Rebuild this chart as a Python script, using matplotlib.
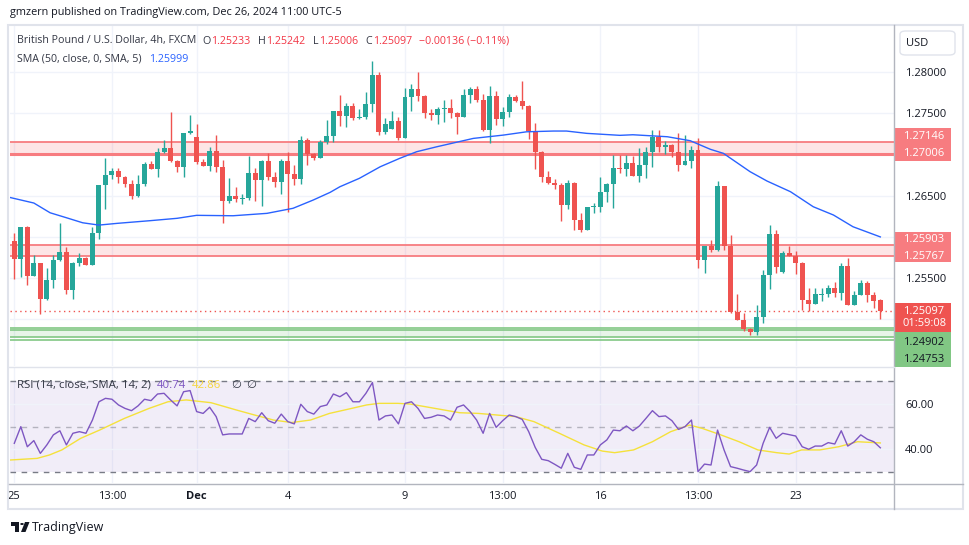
import matplotlib
matplotlib.use("Agg")
import matplotlib.pyplot as plt
from matplotlib.patches import Rectangle, FancyBboxPatch, Polygon, Circle
from matplotlib.lines import Line2D

# GBPUSD 4h candles
opens = [1.25949, 1.25735, 1.26118, 1.25529, 1.25679, 1.25251, 1.25473, 1.25719, 1.25816, 1.25356,
         1.25679, 1.25743, 1.25662, 1.26046, 1.26627, 1.26748, 1.26796, 1.26727, 1.26639, 1.26497,
         1.26639, 1.26884, 1.26820, 1.27029, 1.27078, 1.26917, 1.26848, 1.27256, 1.27207, 1.26908,
         1.26860, 1.27038, 1.26848, 1.26437, 1.26490, 1.26461, 1.26469, 1.26772, 1.26691, 1.26917,
         1.26720, 1.26666, 1.26917, 1.26760, 1.26699, 1.27167, 1.27002, 1.26957, 1.27147, 1.27219,
         1.27522, 1.27465, 1.27582, 1.27441, 1.27449, 1.27607, 1.27958, 1.27271, 1.27304, 1.27401,
         1.27199, 1.27691, 1.27792, 1.27707, 1.27501, 1.27474, 1.27546, 1.27555, 1.27501, 1.27453,
         1.27716, 1.27788, 1.27659, 1.27292, 1.27703, 1.27429, 1.27506, 1.27691, 1.27643, 1.27586,
         1.27280, 1.27029, 1.26723, 1.26654, 1.26630, 1.26388, 1.26651, 1.26207, 1.26086, 1.26357,
         1.26360, 1.26542, 1.26635, 1.26829, 1.26820, 1.26893, 1.26739, 1.26869, 1.27026, 1.27211,
         1.27090, 1.27111, 1.27022, 1.26872, 1.26917, 1.27050, 1.25723, 1.25888, 1.25844, 1.26614,
         1.25892, 1.25093, 1.24993, 1.24888, 1.24851, 1.25029, 1.25538, 1.26034, 1.25574, 1.25804,
         1.25771, 1.25686, 1.25235, 1.25190, 1.25300, 1.25310, 1.25380, 1.25323, 1.25646, 1.25175,
         1.25292, 1.25441, 1.25299, 1.25233]
highs = [1.26042, 1.26124, 1.26130, 1.25776, 1.25685, 1.25622, 1.25776, 1.26167, 1.25878, 1.25695,
         1.25804, 1.25759, 1.26122, 1.26627, 1.26953, 1.26829, 1.26829, 1.26730, 1.26683, 1.26748,
         1.26901, 1.26913, 1.27078, 1.27171, 1.27510, 1.26929, 1.27256, 1.27474, 1.27365, 1.26941,
         1.27083, 1.27235, 1.26929, 1.26711, 1.26599, 1.26514, 1.26974, 1.26829, 1.26929, 1.27010,
         1.26780, 1.26945, 1.27026, 1.26869, 1.27219, 1.27195, 1.27010, 1.27167, 1.27413, 1.27522,
         1.27716, 1.27622, 1.27622, 1.27546, 1.27752, 1.28127, 1.27997, 1.27441, 1.27518, 1.27453,
         1.27800, 1.27852, 1.27997, 1.27715, 1.27543, 1.27567, 1.27655, 1.27667, 1.27510, 1.27788,
         1.27816, 1.27824, 1.27728, 1.27824, 1.27760, 1.27567, 1.27724, 1.27715, 1.27885, 1.27595,
         1.27377, 1.27038, 1.26796, 1.26699, 1.26647, 1.26687, 1.26659, 1.26284, 1.26357, 1.26405,
         1.26723, 1.26651, 1.26990, 1.26990, 1.26990, 1.26974, 1.27074, 1.27086, 1.27292, 1.27292,
         1.27159, 1.27119, 1.27256, 1.27232, 1.27098, 1.27199, 1.25888, 1.25957, 1.26675, 1.26620,
         1.26022, 1.25308, 1.25074, 1.24896, 1.25175, 1.25598, 1.26143, 1.26082, 1.25828, 1.25892,
         1.25828, 1.25695, 1.25380, 1.25380, 1.25380, 1.25417, 1.25453, 1.25683, 1.25743, 1.25344,
         1.25477, 1.25461, 1.25335, 1.25242]
lows = [1.25486, 1.25517, 1.25420, 1.25525, 1.25069, 1.25239, 1.25384, 1.25711, 1.25311, 1.25251,
        1.25650, 1.25662, 1.25660, 1.25977, 1.26336, 1.26699, 1.26654, 1.26599, 1.26461, 1.26485,
        1.26614, 1.26820, 1.26723, 1.27017, 1.26901, 1.26780, 1.26723, 1.27247, 1.26877, 1.26860,
        1.26800, 1.26780, 1.26170, 1.26412, 1.26424, 1.26393, 1.26445, 1.26437, 1.26376, 1.26687,
        1.26606, 1.26518, 1.26303, 1.26630, 1.26635, 1.26869, 1.26933, 1.26957, 1.27123, 1.27150,
        1.27344, 1.27332, 1.27413, 1.27425, 1.27421, 1.27513, 1.27228, 1.27247, 1.27300, 1.27171,
        1.27195, 1.27526, 1.27643, 1.27441, 1.27409, 1.27368, 1.27389, 1.27441, 1.27247, 1.27450,
        1.27622, 1.27631, 1.27284, 1.27138, 1.27349, 1.27344, 1.27453, 1.27631, 1.27550, 1.27183,
        1.26824, 1.26666, 1.26642, 1.26582, 1.26195, 1.26340, 1.26086, 1.26061, 1.26080, 1.26291,
        1.26300, 1.26424, 1.26352, 1.26775, 1.26739, 1.26739, 1.26666, 1.26715, 1.26848, 1.27029,
        1.27005, 1.26962, 1.26800, 1.26870, 1.26836, 1.25626, 1.25565, 1.25819, 1.25832, 1.25840,
        1.25081, 1.24993, 1.24864, 1.24812, 1.24812, 1.24953, 1.25368, 1.25565, 1.25562, 1.25764,
        1.25553, 1.25114, 1.25098, 1.25190, 1.25227, 1.25271, 1.25271, 1.25239, 1.25175, 1.25175,
        1.25292, 1.25211, 1.25138, 1.25006]
closes = [1.25735, 1.26118, 1.25529, 1.25679, 1.25251, 1.25473, 1.25719, 1.25816, 1.25356, 1.25679,
          1.25743, 1.25662, 1.26046, 1.26627, 1.26748, 1.26796, 1.26727, 1.26639, 1.26497, 1.26639,
          1.26884, 1.26824, 1.27029, 1.27078, 1.26917, 1.26848, 1.27256, 1.27280, 1.26908, 1.26860,
          1.27038, 1.26848, 1.26437, 1.26490, 1.26461, 1.26469, 1.26772, 1.26691, 1.26917, 1.26720,
          1.26666, 1.26917, 1.26760, 1.26699, 1.27167, 1.27002, 1.26957, 1.27147, 1.27219, 1.27522,
          1.27465, 1.27582, 1.27441, 1.27449, 1.27607, 1.27958, 1.27271, 1.27365, 1.27401, 1.27199,
          1.27691, 1.27792, 1.27707, 1.27501, 1.27474, 1.27546, 1.27555, 1.27501, 1.27453, 1.27716,
          1.27788, 1.27659, 1.27292, 1.27703, 1.27429, 1.27506, 1.27691, 1.27643, 1.27586, 1.27280,
          1.27029, 1.26723, 1.26654, 1.26630, 1.26388, 1.26651, 1.26207, 1.26086, 1.26357, 1.26360,
          1.26542, 1.26635, 1.26829, 1.26820, 1.26893, 1.26739, 1.26869, 1.27026, 1.27211, 1.27090,
          1.27111, 1.27022, 1.26872, 1.26917, 1.27050, 1.25723, 1.25888, 1.25844, 1.26614, 1.25892,
          1.25093, 1.24993, 1.24888, 1.24851, 1.25029, 1.25538, 1.26034, 1.25638, 1.25804, 1.25771,
          1.25686, 1.25235, 1.25190, 1.25308, 1.25310, 1.25380, 1.25323, 1.25646, 1.25175, 1.25292,
          1.25441, 1.25299, 1.25227, 1.25097]

# SMA(50) line, read at points along it (bar index, price)
sma_idx = [-0.6, 3, 5.5, 8, 10.5, 13, 15.8, 20.8, 25, 28, 33.6, 38.8, 42.8, 45.9, 48.5, 50, 53,
           56.2, 59.2, 61.8, 64.9, 70.5, 75.1, 78.7, 82.8, 84.8, 87.9, 93, 95, 100.3, 103.8,
           106.9, 108.9, 113, 115.6, 119.2, 122.7, 125.8, 128.8, 133]
sma_val = [1.26475, 1.26409, 1.26291, 1.26231, 1.26170, 1.26142, 1.26163, 1.26195, 1.26224,
           1.26260, 1.26255, 1.26284, 1.26345, 1.26445, 1.26538, 1.26606, 1.26708, 1.26848,
           1.26950, 1.27030, 1.27090, 1.27191, 1.27231, 1.27271, 1.27280, 1.27280, 1.27252,
           1.27228, 1.27235, 1.27211, 1.27163, 1.27059, 1.27010, 1.26788, 1.26675, 1.26546,
           1.26364, 1.26264, 1.26122, 1.25999]

rsi = [42.7, 50.0, 41.2, 43.9, 38.3, 42.0, 46.4, 48.2, 42.0, 47.1,
       47.8, 47.1, 52.9, 60.9, 62.4, 62.0, 59.5, 58.0, 57.0, 59.1,
       62.0, 61.4, 64.3, 64.6, 61.7, 59.1, 65.3, 65.8, 56.6, 55.8,
       58.5, 54.4, 46.4, 46.8, 46.8, 46.8, 53.6, 52.2, 56.1, 52.6,
       51.5, 55.5, 52.2, 51.2, 59.8, 56.6, 55.5, 58.8, 59.5, 64.3,
       63.1, 64.9, 60.9, 60.9, 64.6, 69.3, 52.9, 54.7, 55.1, 51.2,
       60.2, 60.9, 58.0, 53.6, 54.1, 55.1, 54.7, 52.9, 58.5, 59.5,
       56.6, 52.9, 47.1, 55.8, 49.7, 52.6, 55.1, 54.4, 53.2, 47.8,
       40.9, 35.7, 35.1, 33.5, 31.8, 38.3, 32.2, 31.3, 37.6, 37.6,
       42.0, 44.2, 48.5, 48.2, 50.3, 48.2, 50.3, 53.6, 57.0, 54.4,
       54.7, 52.6, 48.8, 50.0, 52.9, 30.3, 33.6, 33.2, 48.5, 39.8,
       32.5, 31.8, 31.0, 30.3, 33.2, 42.7, 49.7, 44.9, 47.1, 46.5,
       45.9, 41.2, 40.1, 41.5, 41.5, 43.0, 42.4, 48.2, 41.5, 43.4,
       46.4, 44.5, 43.4, 40.74]

rsi_ma_idx = [-0.6, 3.5, 5.4, 7.3, 10.2, 13.1, 16.9, 20.7, 23.6, 26.4, 30.2, 34.1, 36.9, 39.8,
              42.6, 45.5, 48.4, 51.2, 54.1, 56, 58.9, 60.8, 64.6, 68.4, 71.3, 74.1, 77, 79.8,
              83.7, 87.5, 90.3, 92.2, 95.1, 98, 100.8, 103.7, 105.6, 108.5, 111.3, 114.2, 117.1,
              119, 120.9, 123.7, 126.6, 129.5, 133]
rsi_ma_val = [35.4, 36.1, 37.6, 39.8, 44.9, 48.5, 53.6, 58.0, 60.9, 61.7, 60.5, 57.3, 55.1,
              52.9, 51.8, 52.9, 55.8, 57.6, 59.5, 60.2, 60.2, 59.9, 58.0, 56.1, 55.8, 55.1,
              54.4, 52.2, 47.1, 42.0, 39.3, 38.6, 39.8, 43.4, 47.8, 50.7, 49.3, 46.4, 43.4,
              39.8, 38.6, 38.0, 39.8, 39.8, 41.2, 43.4, 42.86]

tick_idx = [0, 15, 28, 42, 60, 75, 90, 105, 120]
tick_lab = ["25", "13:00", "Dec", "4", "9", "13:00", "16", "13:00", "23"]

red_zones = [(1.27006, 1.27146), (1.25767, 1.25903)]
green_zone = (1.24753, 1.24902)
last_close = 1.25097

W, H = 970, 545
FONT = ["Open Sans", "DejaVu Sans"]
TXT = "#131722"
GREY = "#333744"
RED = "#f23645"
UP, DOWN = "#26a69a", "#ef5350"
GRID = "#f0f3fa"


def fx(x):
    return x / W


def fy(y):
    return 1 - y / H


fig = plt.figure(figsize=(W / 100, H / 100), dpi=100)
fig.patch.set_facecolor("white")
renderer = fig.canvas.get_renderer()

ax = fig.add_axes([fx(10), fy(366), fx(894) - fx(10), fy(26) - fy(366)])
rax = fig.add_axes([fx(10), fy(483), fx(894) - fx(10), fy(368) - fy(483)])

x0, x1 = -0.66, 135.1
for a in (ax, rax):
    a.set_xlim(x0, x1)
    for s in a.spines.values():
        s.set_visible(False)
    a.set_xticks([])
    for tk in tick_idx:
        a.axvline(tk, color=GRID, lw=1, zorder=0)

ax.set_ylim(1.24437, 1.28551)
for g in [1.250, 1.255, 1.260, 1.265, 1.270, 1.275, 1.280]:
    ax.axhline(g, color=GRID, lw=1, zorder=0)

# zones
for lo, hi in red_zones:
    ax.axhspan(lo, hi, color=RED, alpha=0.13, lw=0, zorder=1)
    ax.axhline(hi, color="#f77c80", lw=1.3, zorder=1)
    ax.axhline(lo, color="#f77c80", lw=1.3 if lo < 1.26 else 2.2, zorder=1)
glo, ghi = green_zone
ax.axhspan(glo + 0.0004, ghi - 0.00025, color="#4caf50", alpha=0.13, lw=0, zorder=1)
for g in [ghi, ghi - 0.00025, glo + 0.0004, glo]:
    ax.axhline(g, color="#81c784", lw=1.2, zorder=1)

ax.axhline(last_close, color="#ef5350", lw=1, ls=(0, (1, 2.5)), zorder=1)

# candles
n = len(closes)
idx = list(range(n))
cols = [UP if c >= o else DOWN for o, c in zip(opens, closes)]
ax.vlines(idx, lows, highs, colors=cols, lw=1, zorder=3)
bottoms = [min(o, c) for o, c in zip(opens, closes)]
heights = [max(abs(c - o), 0.00012) for o, c in zip(opens, closes)]
ax.bar(idx, heights, bottom=bottoms, width=0.76, color=cols, lw=0, zorder=4)

ax.plot(sma_idx, sma_val, color="#2962ff", lw=1, zorder=5)

ax.yaxis.tick_right()
ax.set_yticks([1.28, 1.275, 1.265, 1.255])
ax.set_yticklabels(["1.28000", "1.27500", "1.26500", "1.25500"])
ax.tick_params(axis="y", length=0, pad=8, labelsize=8, labelcolor=TXT)
for lab in ax.get_yticklabels():
    lab.set_family(FONT)

# RSI pane
rax.set_ylim(25.32, 75.69)
rax.axhspan(30, 70, color="#7e57c2", alpha=0.1, lw=0, zorder=0)
rax.axhline(60, color=GRID, lw=1, zorder=0)
rax.axhline(40, color=GRID, lw=1, zorder=0)
for lv, al in [(70, 1.0), (50, 0.5), (30, 1.0)]:
    rax.axhline(lv, color="#787b86", lw=1, ls=(0, (4, 4)), alpha=al, zorder=1)
rax.plot(idx, rsi, color="#7e57c2", lw=1, zorder=3)
rax.plot(rsi_ma_idx, rsi_ma_val, color="#f5e13b", lw=1, zorder=2)
rax.yaxis.tick_right()
rax.set_yticks([60, 40])
rax.set_yticklabels(["60.00", "40.00"])
rax.tick_params(axis="y", length=0, pad=8, labelsize=8, labelcolor=TXT)
for lab in rax.get_yticklabels():
    lab.set_family(FONT)

rax.set_xticks(tick_idx)
rax.set_xticklabels(tick_lab)
rax.tick_params(axis="x", length=0, pad=6, labelsize=8, labelcolor=TXT)
for lab in rax.get_xticklabels():
    lab.set_family(FONT)
    if lab.get_text() == "Dec":
        lab.set_fontweight("bold")

# frame lines
frame = "#e0e3eb"
fig.add_artist(Line2D([fx(894), fx(894)], [fy(25), fy(509)], color="#b2b5be", lw=1))
fig.add_artist(Line2D([fx(9), fx(963)], [fy(483.5), fy(483.5)], color="#b2b5be", lw=1))
fig.add_artist(Line2D([fx(9), fx(894)], [fy(367), fy(367)], color=frame, lw=1))
fig.add_artist(Rectangle((fx(8), fy(509)), fx(963) - fx(8), fy(25) - fy(509),
                         fill=False, ec=frame, lw=1.5))


def t(x, y, s, color=TXT, size=8.3, **kw):
    return fig.text(fx(x), fy(y), s, color=color, fontsize=size, va="center", ha="left",
                    family=FONT, **kw)


def run(x, y, pieces, size):
    # lay out coloured pieces one after another on a line
    for s, c, gap in pieces:
        tx = t(x, y, s, color=c, size=size)
        x += tx.get_window_extent(renderer).width + gap


t(10, 13, "gmzern published on TradingView.com, Dec 26, 2024 11:00 UTC-5", size=7.8)

run(17, 41, [("British Pound / U.S. Dollar, 4h, FXCM", GREY, 6),
             ("O", GREY, 1), ("1.25233", RED, 7),
             ("H", GREY, 1), ("1.25242", RED, 7),
             ("L", GREY, 1), ("1.25006", RED, 7),
             ("C", GREY, 1), ("1.25097", RED, 7),
             ("\u22120.00136 (\u22120.11%)", RED, 0)], 7.7)
run(17, 59, [("SMA (50, close, 0, SMA, 5)", GREY, 7), ("1.25999", "#2962ff", 0)], 7.7)

run(17, 385, [("RSI (14, close, SMA, 14, 2)", GREY, 6), ("40.74", "#7e57c2", 6),
              ("42.86", "#f5d63b", 10), ("\u2205", GREY, 5), ("\u2205", GREY, 0)], 8.2)

# USD button
fig.add_artist(FancyBboxPatch((fx(900), fy(55)), fx(955) - fx(900), fy(31) - fy(55),
                              boxstyle="round,pad=0,rounding_size=0.006",
                              fc="white", ec=frame, lw=1))
t(906, 44, "USD", size=8)


# price label boxes
def box(y0, y1, fc, lines, tc="white"):
    fig.add_artist(Rectangle((fx(895), fy(y1)), fx(951) - fx(895), fy(y0) - fy(y1),
                             fc=fc, ec="none"))
    for yy, s in lines:
        t(903, yy, s, color=tc, size=8)


box(128, 161, "#f77c80", [(136.5, "1.27146"), (153, "1.27006")])
box(232, 262, "#f77c80", [(240, "1.25903"), (256.5, "1.25767")])
box(303, 332, "#ef5350", [(311.5, "1.25097"), (323.5, "01:59:08")])
box(332, 367, "#81c784", [(342.5, "1.24902"), (360, "1.24753")], tc=TXT)

# TradingView logo
fig.add_artist(Polygon([(fx(11), fy(522)), (fx(19), fy(522)), (fx(19), fy(532)),
                        (fx(15.5), fy(532)), (fx(15.5), fy(525.5)), (fx(11), fy(525.5))],
                       closed=True, fc=TXT, ec="none"))
fig.add_artist(Circle((fx(22), fy(524)), 1.8 / W, fc=TXT, ec="none"))
fig.add_artist(Polygon([(fx(25), fy(522)), (fx(29.5), fy(522)), (fx(25.5), fy(532)),
                        (fx(21), fy(532))], closed=True, fc=TXT, ec="none"))
t(32, 527, "TradingView", size=9)

fig.savefig("out.png", dpi=100)
